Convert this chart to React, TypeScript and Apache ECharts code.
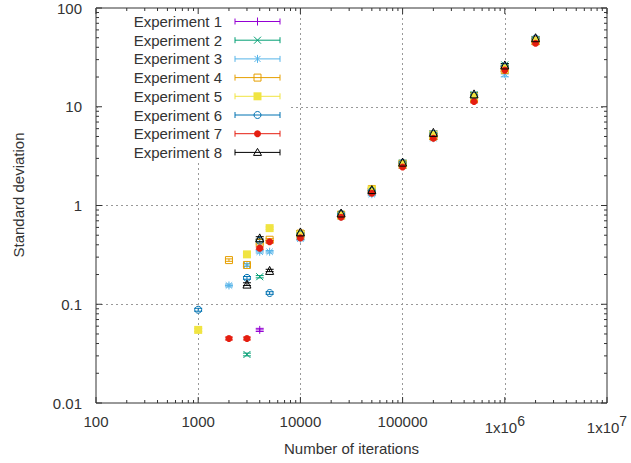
import React, { useEffect, useRef } from "react";
import * as echarts from "echarts";

const iterations = [1000, 2000, 3000, 4000, 5000, 10000, 25000, 50000, 100000, 200000, 500000, 1000000, 2000000];

const exp1Values = [null, null, null, 0.055, null, 0.5, 0.8, 1.4, 2.65, 5.1, 12.8, 25.5, 48];
const exp1Errors = [null, null, null, 0.002, null, 0.012, 0.02, 0.035, 0.07, 0.14, 0.35, 0.7, 1.3];
const exp2Values = [null, null, 0.031, 0.19, null, 0.49, 0.79, 1.38, 2.7, 5.3, 13.3, 26.5, 48];
const exp2Errors = [null, null, 0.001, 0.005, null, 0.013, 0.02, 0.04, 0.08, 0.15, 0.4, 0.8, 1.4];
const exp3Values = [null, 0.155, 0.25, 0.34, 0.34, 0.46, 0.77, 1.3, 2.55, 4.8, 11.8, 21.5, 46];
const exp3Errors = [null, 0.005, 0.008, 0.01, 0.01, 0.015, 0.025, 0.045, 0.08, 0.16, 0.4, 1.4, 1.4];
const exp4Values = [null, 0.28, 0.25, 0.42, 0.45, 0.52, 0.81, 1.47, 2.65, 5.0, 12.0, 23.5, 46];
const exp4Errors = [null, 0.008, 0.008, 0.012, 0.012, 0.015, 0.025, 0.04, 0.08, 0.15, 0.35, 0.7, 1.4];
const exp5Values = [0.055, null, 0.32, null, 0.59, 0.51, 0.79, 1.45, 2.6, 5.2, 12.7, 24.5, 47];
const exp5Errors = [0.002, null, 0.009, null, 0.016, 0.014, 0.022, 0.04, 0.075, 0.15, 0.38, 0.7, 1.4];
const exp6Values = [0.088, null, 0.185, 0.44, 0.13, 0.51, 0.82, 1.4, 2.7, 5.3, 13.0, 25.5, 49];
const exp6Errors = [0.003, null, 0.006, 0.012, 0.004, 0.014, 0.022, 0.04, 0.08, 0.15, 0.38, 0.75, 1.4];
const exp7Values = [null, 0.045, 0.045, 0.37, 0.43, 0.47, 0.76, 1.33, 2.45, 4.8, 11.3, 23.5, 44];
const exp7Errors = [null, 0.0015, 0.0015, 0.01, 0.012, 0.013, 0.022, 0.04, 0.07, 0.14, 0.33, 0.7, 1.3];
const exp8Values = [null, null, 0.16, 0.47, 0.22, 0.54, 0.84, 1.45, 2.75, 5.5, 13.5, 26.5, 50];
const exp8Errors = [null, null, 0.005, 0.013, 0.006, 0.015, 0.024, 0.04, 0.08, 0.16, 0.4, 0.8, 1.5];

const seriesNames = ["Experiment 1", "Experiment 2", "Experiment 3", "Experiment 4", "Experiment 5", "Experiment 6", "Experiment 7", "Experiment 8"];
const xTickLabels = ["100", "1000", "10000", "100000", "1x10^6", "1x10^7"];
const yTickLabels = ["0.01", "0.1", "1", "10", "100"];
const xAxisTitle = "Number of iterations";
const yAxisTitle = "Standard deviation";

const allValues = [exp1Values, exp2Values, exp3Values, exp4Values, exp5Values, exp6Values, exp7Values, exp8Values];
const allErrors = [exp1Errors, exp2Errors, exp3Errors, exp4Errors, exp5Errors, exp6Errors, exp7Errors, exp8Errors];

const COLORS = ["#9400d3", "#009e73", "#56b4e9", "#e69f00", "#f0e442", "#0072b2", "#e51e10", "#000000"];
const FONT = "Liberation Sans, Arial, sans-serif";
const TEXT = "#333";
const FRAME = "#333";

const PLUS = "path://M0,5L10,5M5,0L5,10";
const CROSS = "path://M0,0L10,10M10,0L0,10";
const STAR = "path://M0,5L10,5M5,0L5,10M1,1L9,9M9,1L1,9";

type Mk = { symbol: string; size: number; filled: boolean };
const MARKERS: Mk[] = [
  { symbol: PLUS, size: 8, filled: false },
  { symbol: CROSS, size: 7, filled: false },
  { symbol: STAR, size: 8, filled: false },
  { symbol: "rect", size: 7, filled: false },
  { symbol: "rect", size: 8, filled: true },
  { symbol: "circle", size: 7, filled: false },
  { symbol: "circle", size: 7, filled: true },
  { symbol: "triangle", size: 8, filled: false },
];

function legendMarker(i: number, cx: number, cy: number, color: string): any[] {
  const st = { stroke: color, lineWidth: 1, fill: null };
  const ln = (x1: number, y1: number, x2: number, y2: number) => ({ type: "line", z: 5, shape: { x1, y1, x2, y2 }, style: st });
  switch (i) {
    case 0: return [ln(cx, cy - 4, cx, cy + 4)];
    case 1: return [ln(cx - 3.5, cy - 3.5, cx + 3.5, cy + 3.5), ln(cx + 3.5, cy - 3.5, cx - 3.5, cy + 3.5)];
    case 2: return [ln(cx, cy - 4, cx, cy + 4), ln(cx - 3, cy - 3, cx + 3, cy + 3), ln(cx + 3, cy - 3, cx - 3, cy + 3)];
    case 3: return [{ type: "rect", z: 5, shape: { x: cx - 3.5, y: cy - 3.5, width: 7, height: 7 }, style: { stroke: color, lineWidth: 1, fill: "rgba(0,0,0,0)" } }];
    case 4: return [{ type: "rect", z: 5, shape: { x: cx - 4, y: cy - 4, width: 8, height: 8 }, style: { fill: color } }];
    case 5: return [{ type: "circle", z: 5, shape: { cx, cy, r: 3.5 }, style: { stroke: color, lineWidth: 1, fill: "rgba(0,0,0,0)" } }];
    case 6: return [{ type: "circle", z: 5, shape: { cx, cy, r: 3.5 }, style: { fill: color } }];
    default: return [{ type: "polygon", z: 5, shape: { points: [[cx, cy - 4], [cx + 4, cy + 3], [cx - 4, cy + 3]] }, style: { stroke: color, lineWidth: 1, fill: "rgba(0,0,0,0)" } }];
  }
}

export default function App() {
  const ref = useRef<HTMLDivElement>(null);
  useEffect(() => {
    if (!ref.current) return;
    const chart = echarts.init(ref.current, undefined, { renderer: "svg" });

    const xTicks: number[][] = [];
    for (let k = 2; k <= 7; k++) {
      xTicks.push([Math.pow(10, k), 1, 1]);
      if (k < 7) for (let m = 2; m <= 9; m++) xTicks.push([m * Math.pow(10, k), 1, 0]);
    }
    const yTicks: number[][] = [];
    for (let k = -2; k <= 2; k++) {
      yTicks.push([1000, Math.pow(10, k), 1]);
      if (k < 2) for (let m = 2; m <= 9; m++) yTicks.push([1000, m * Math.pow(10, k), 0]);
    }

    const series: any[] = [];
    series.push({
      type: "custom", name: "xticks", silent: true, z: 4, clip: false,
      data: xTicks, encode: { x: 0, y: 1 },
      renderItem: (params: any, api: any) => {
        const cs = params.coordSys;
        const p = api.coord([api.value(0), 1]);
        const len = api.value(2) ? 6 : 3;
        const st = { stroke: FRAME, lineWidth: 1 };
        const b = cs.y + cs.height;
        return { type: "group", children: [
          { type: "line", shape: { x1: p[0], y1: b, x2: p[0], y2: b - len }, style: st },
          { type: "line", shape: { x1: p[0], y1: cs.y, x2: p[0], y2: cs.y + len }, style: st },
        ] };
      },
    });
    series.push({
      type: "custom", name: "yticks", silent: true, z: 4, clip: false,
      data: yTicks, encode: { x: 0, y: 1 },
      renderItem: (params: any, api: any) => {
        const cs = params.coordSys;
        const p = api.coord([1000, api.value(1)]);
        const len = api.value(2) ? 6 : 3;
        const st = { stroke: FRAME, lineWidth: 1 };
        const r = cs.x + cs.width;
        return { type: "group", children: [
          { type: "line", shape: { x1: cs.x, y1: p[1], x2: cs.x + len, y2: p[1] }, style: st },
          { type: "line", shape: { x1: r, y1: p[1], x2: r - len, y2: p[1] }, style: st },
        ] };
      },
    });

    allValues.forEach((vals, s) => {
      const errs = allErrors[s];
      const color = COLORS[s];
      const errData: number[][] = [];
      const ptData: number[][] = [];
      iterations.forEach((x, i) => {
        const v = vals[i];
        if (v == null) return;
        const e = errs[i] ?? 0;
        errData.push([x, v - e, v + e]);
        ptData.push([x, v]);
      });
      series.push({
        type: "custom", name: seriesNames[s] + " err", silent: true, z: 2,
        data: errData, encode: { x: 0, y: [1, 2] },
        renderItem: (_p: any, api: any) => {
          const x = api.value(0);
          const lo = api.coord([x, api.value(1)]);
          const hi = api.coord([x, api.value(2)]);
          const w = 4;
          const st = { stroke: color, lineWidth: 1 };
          return { type: "group", children: [
            { type: "line", shape: { x1: lo[0], y1: lo[1], x2: hi[0], y2: hi[1] }, style: st },
            { type: "line", shape: { x1: lo[0] - w, y1: lo[1], x2: lo[0] + w, y2: lo[1] }, style: st },
            { type: "line", shape: { x1: hi[0] - w, y1: hi[1], x2: hi[0] + w, y2: hi[1] }, style: st },
          ] };
        },
      });
      const mk = MARKERS[s];
      series.push({
        type: "scatter", name: seriesNames[s], z: 2,
        data: ptData, symbol: mk.symbol, symbolSize: mk.size,
        itemStyle: mk.filled
          ? { color, opacity: 1 }
          : { color: "rgba(0,0,0,0)", borderColor: color, borderWidth: 1, opacity: 1 },
      });
    });

    const legendChildren: any[] = [
      { type: "rect", z: 1, shape: { x: 98, y: 9, width: 192, height: 153 }, style: { fill: "#fff" } },
    ];
    const rowY0 = 21.5, rowStep = 18.7;
    seriesNames.forEach((name, i) => {
      const y = rowY0 + i * rowStep;
      const c = COLORS[i];
      const st = { stroke: c, lineWidth: 1 };
      legendChildren.push({ type: "text", z: 5, x: 222, y, style: { text: name, fill: TEXT, font: `15px ${FONT}`, align: "right", verticalAlign: "middle" } });
      legendChildren.push({ type: "line", z: 5, shape: { x1: 235, y1: y, x2: 280, y2: y }, style: st });
      legendChildren.push({ type: "line", z: 5, shape: { x1: 235, y1: y - 3, x2: 235, y2: y + 3 }, style: st });
      legendChildren.push({ type: "line", z: 5, shape: { x1: 280, y1: y - 3, x2: 280, y2: y + 3 }, style: st });
      legendMarker(i, 257.5, y, c).forEach((m) => legendChildren.push(m));
    });
    legendChildren.push({ type: "text", z: 5, x: 18, y: 195, rotation: Math.PI / 2, style: { text: yAxisTitle, fill: TEXT, font: `15px ${FONT}`, align: "center", verticalAlign: "middle" } });

    const splitStyle = { show: true, lineStyle: { color: "#999", type: [2, 3], width: 1 } };

    chart.setOption({
      animation: false,
      backgroundColor: "#fff",
      grid: { left: 96, right: 24, top: 8, bottom: 60, show: true, borderColor: FRAME, borderWidth: 1, backgroundColor: "rgba(0,0,0,0)" },
      xAxis: {
        type: "log", logBase: 10, min: 100, max: 10000000,
        name: xAxisTitle, nameLocation: "middle", nameGap: 38,
        nameTextStyle: { color: TEXT, fontSize: 15, fontFamily: FONT },
        axisLine: { show: false }, axisTick: { show: false },
        splitLine: splitStyle,
        axisLabel: {
          color: TEXT, fontSize: 15, fontFamily: FONT, margin: 11,
          formatter: (v: number) => {
            const k = Math.round(Math.log10(v));
            const lab = xTickLabels[k - 2] ?? "";
            if (lab.includes("^")) {
              const [b, e] = lab.split("^");
              return `${b}{s|${e}}`;
            }
            return lab;
          },
          rich: { s: { color: TEXT, fontSize: 14, fontFamily: FONT, padding: [0, 0, 12, 0] } },
        },
      },
      yAxis: {
        type: "log", logBase: 10, min: 0.01, max: 100,
        axisLine: { show: false }, axisTick: { show: false },
        splitLine: splitStyle,
        axisLabel: {
          color: TEXT, fontSize: 15, fontFamily: FONT, margin: 14,
          formatter: (v: number) => yTickLabels[Math.round(Math.log10(v)) + 2] ?? "",
        },
      },
      graphic: legendChildren,
      series,
    });
    return () => chart.dispose();
  }, []);
  return <div ref={ref} style={{ position: "absolute", left: 0, top: 0, width: 631, height: 463 }} />;
}
